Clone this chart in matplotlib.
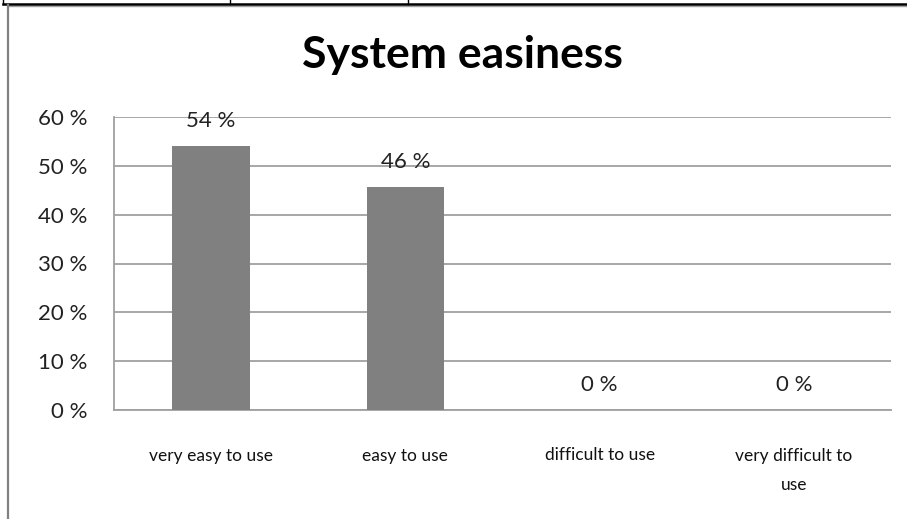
import matplotlib
matplotlib.use("Agg")
import matplotlib.pyplot as plt
from matplotlib.lines import Line2D

categories = ["very easy to use", "easy to use", "difficult to use", "very difficult to\nuse"]
values = [54.0, 45.6, 0.0, 0.0]
value_labels = ["54 %", "46 %", "0 %", "0 %"]
yticks = [0, 10, 20, 30, 40, 50, 60]
ytick_labels = ["0 %", "10 %", "20 %", "30 %", "40 %", "50 %", "60 %"]
title = "System easiness"

plt.rcParams['font.family'] = ['Lato', 'DejaVu Sans']

W, H = 907, 519
fig = plt.figure(figsize=(W / 100, H / 100), dpi=100)
fig.patch.set_facecolor("white")

left, right, top, bottom = 114, 891, 117, 410
ax = fig.add_axes([left / W, 1 - bottom / H, (right - left) / W, (bottom - top) / H])
x = list(range(len(categories)))
ax.bar(x, values, width=0.4, color="#808080", zorder=3)
ax.set_xlim(-0.5, len(categories) - 0.5)
ax.set_ylim(0, 60)
ax.set_yticks(yticks)
ax.set_yticklabels(ytick_labels, fontsize=16, color="#222222")
ax.set_xticks(x)
ax.set_xticklabels(categories, fontsize=12.5, color="#111111", linespacing=2.0)
ax.tick_params(axis="y", length=0, pad=19)
ax.tick_params(axis="x", length=0, pad=27)
ax.yaxis.grid(True, color="#a0a0a0", linewidth=1.3, zorder=0)
for s in ["top", "right"]:
    ax.spines[s].set_visible(False)
for s in ["left", "bottom"]:
    ax.spines[s].set_color("#a0a0a0")
    ax.spines[s].set_linewidth(1.3)

for xi, v, lab in zip(x, values, value_labels):
    ax.annotate(lab, (xi, v), xytext=(0, 13.7), textcoords="offset points",
                ha="center", va="baseline", fontsize=16, color="#222222")

fig.text(462 / W, 1 - 68 / H, title, ha="center", va="baseline",
         fontsize=32, fontweight="bold", color="#000000")

def hline(y, x0, x1, color, lw):
    fig.add_artist(Line2D([x0 / W, x1 / W], [1 - y / H, 1 - y / H], color=color, linewidth=lw,
                          transform=fig.transFigure))

def vline(xp, y0, y1, color, lw):
    fig.add_artist(Line2D([xp / W, xp / W], [1 - y0 / H, 1 - y1 / H], color=color, linewidth=lw,
                          transform=fig.transFigure))

hline(6, 8, W, "#a0a0a0", 1.0)
hline(4, 3, W, "#000000", 1.8)
vline(3, 0, 4, "#000000", 1.0)
vline(230, 0, 4, "#000000", 1.0)
vline(408, 0, 4, "#000000", 1.0)
vline(8, 5, H, "#808080", 1.6)

fig.savefig("out.png", dpi=100, facecolor="white")
